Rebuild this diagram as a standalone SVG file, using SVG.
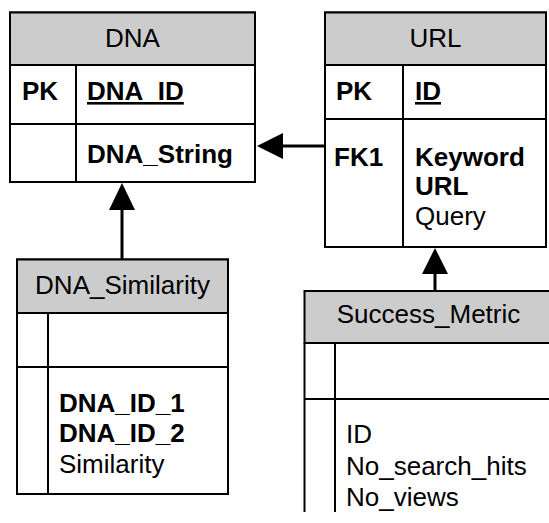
<svg xmlns="http://www.w3.org/2000/svg" width="549" height="523" viewBox="0 0 549 523">
  <style>
    .box { fill: #ffffff; stroke: #000000; stroke-width: 2; }
    .head { fill: #cccccc; stroke: #000000; stroke-width: 2; }
    .rule { stroke: #000000; stroke-width: 2; fill: none; }
    .title { font-family: "Liberation Sans", Arial, sans-serif; font-size: 26px; fill: #000000; text-anchor: middle; }
    .key { font-family: "Liberation Sans", Arial, sans-serif; font-size: 26px; font-weight: bold; fill: #000000; }
    .field { font-family: "Liberation Sans", Arial, sans-serif; font-size: 26px; fill: #000000; }
    .link { stroke: #000000; stroke-width: 3; fill: none; }
    .head-arrow { fill: #000000; stroke: none; }
  </style>

  <rect width="549" height="523" fill="#ffffff"/>

  <!-- DNA table -->
  <g id="dna">
    <rect class="box" x="10" y="12.5" width="245" height="169.5"/>
    <rect class="head" x="10" y="12.5" width="245" height="52.5"/>
    <line class="rule" x1="10" y1="124" x2="255" y2="124"/>
    <line class="rule" x1="76" y1="65" x2="76" y2="182"/>
    <text class="title" x="132.5" y="47">DNA</text>
    <text class="key" x="22" y="100">PK</text>
    <text class="key" x="87" y="100" text-decoration="underline">DNA_ID</text>
    <text class="key" x="87" y="163">DNA_String</text>
  </g>

  <!-- URL table -->
  <g id="url">
    <rect class="box" x="325" y="12.5" width="221" height="234.5"/>
    <rect class="head" x="325" y="12.5" width="221" height="52.5"/>
    <line class="rule" x1="325" y1="119" x2="546" y2="119"/>
    <line class="rule" x1="403" y1="65" x2="403" y2="247"/>
    <text class="title" x="435.5" y="47">URL</text>
    <text class="key" x="336" y="100">PK</text>
    <text class="key" x="415" y="100" text-decoration="underline">ID</text>
    <text class="key" x="334" y="166">FK1</text>
    <text class="key" x="415" y="166">Keyword</text>
    <text class="key" x="415" y="195">URL</text>
    <text class="field" x="415" y="225">Query</text>
  </g>

  <!-- DNA_Similarity table -->
  <g id="dna-similarity">
    <rect class="box" x="17" y="259.5" width="211" height="234.5"/>
    <rect class="head" x="17" y="259.5" width="211" height="53.5"/>
    <line class="rule" x1="17" y1="367" x2="228" y2="367"/>
    <line class="rule" x1="48" y1="313" x2="48" y2="494"/>
    <text class="title" x="122.5" y="294">DNA_Similarity</text>
    <text class="key" x="59" y="412">DNA_ID_1</text>
    <text class="key" x="59" y="442">DNA_ID_2</text>
    <text class="field" x="59" y="473">Similarity</text>
  </g>

  <!-- Success_Metric table (runs past the right and bottom edges) -->
  <g id="success-metric">
    <rect class="head" x="304.5" y="291" width="260" height="52"/>
    <line class="rule" x1="304.5" y1="343" x2="304.5" y2="512"/>
    <line class="rule" x1="335" y1="343" x2="335" y2="512"/>
    <line class="rule" x1="304.5" y1="399" x2="560" y2="399"/>
    <text class="title" x="428.5" y="323">Success_Metric</text>
    <text class="field" x="346" y="443">ID</text>
    <text class="field" x="346" y="475">No_search_hits</text>
    <text class="field" x="346" y="506">No_views</text>
  </g>

  <!-- Relationships -->
  <g id="connectors">
    <line class="link" x1="325" y1="146" x2="282" y2="146"/>
    <polygon class="head-arrow" points="257,146 283,133 283,159"/>
    <line class="link" x1="122" y1="259.5" x2="122" y2="209"/>
    <polygon class="head-arrow" points="122,183 109,210 135,210"/>
    <line class="link" x1="435" y1="291" x2="435" y2="273"/>
    <polygon class="head-arrow" points="435,248 422,274 448,274"/>
  </g>
</svg>
